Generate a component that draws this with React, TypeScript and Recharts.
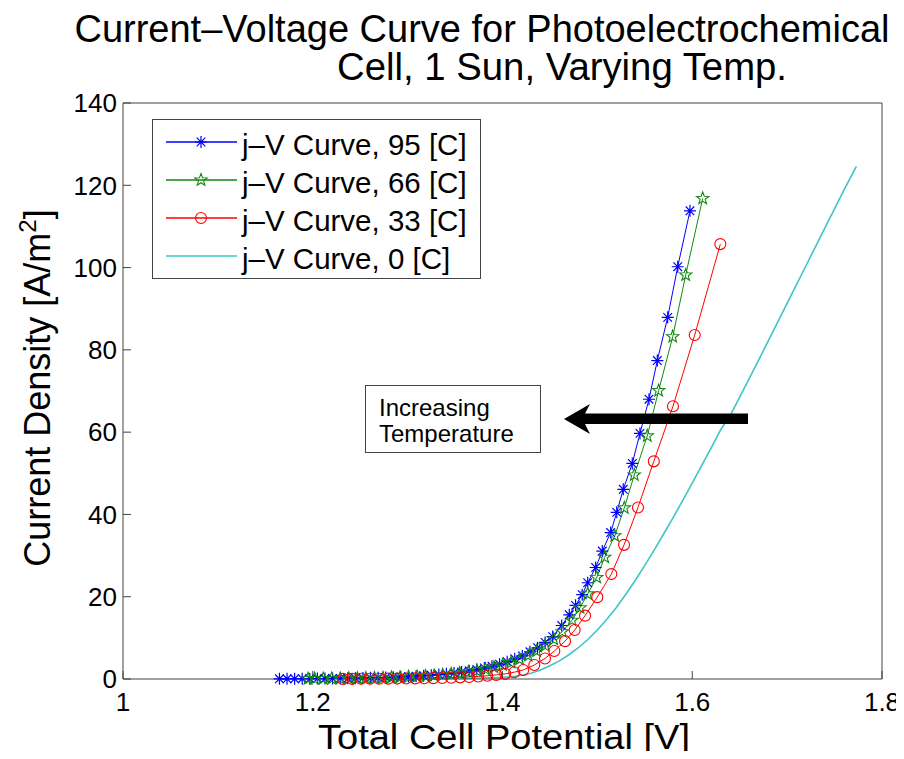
import { LineChart, Line, XAxis, YAxis } from "recharts";

// j-V readings [V, A/m^2]
const blueVJ = [
  [1.1649, 0.04], [1.1729, 0.05], [1.1809, 0.06], [1.1889, 0.07], [1.1969, 0.08],
  [1.2049, 0.1], [1.2129, 0.11], [1.2209, 0.13], [1.2289, 0.15], [1.2369, 0.18],
  [1.2449, 0.21], [1.2529, 0.24], [1.2609, 0.28], [1.2689, 0.32], [1.2769, 0.38],
  [1.2849, 0.44], [1.2929, 0.51], [1.3009, 0.59], [1.3089, 0.69], [1.3169, 0.8],
  [1.3249, 0.93], [1.3329, 1.08], [1.3409, 1.25], [1.3489, 1.45], [1.3569, 1.7],
  [1.3649, 2.0], [1.3729, 2.3], [1.3809, 2.7], [1.3889, 3.1], [1.3969, 3.6],
  [1.4049, 4.2], [1.4129, 4.9], [1.4209, 5.6], [1.4289, 6.6], [1.4369, 7.6],
  [1.4449, 8.9], [1.4529, 10.3], [1.4624, 13.0], [1.4704, 15.6], [1.477, 17.9],
  [1.484, 20.5], [1.4898, 23.4], [1.4982, 27.1], [1.5052, 31.1], [1.514, 35.6],
  [1.5204, 40.5], [1.5273, 46.1], [1.5368, 52.4], [1.5449, 59.7], [1.5544, 68.0],
  [1.5632, 77.4], [1.5741, 87.9], [1.5847, 100.2], [1.5976, 113.8],
];

const greenVJ = [
  [1.195, 0.06], [1.202, 0.07], [1.211, 0.09], [1.22, 0.1], [1.229, 0.12],
  [1.238, 0.15], [1.247, 0.18], [1.256, 0.21], [1.265, 0.25], [1.274, 0.3],
  [1.283, 0.35], [1.292, 0.42], [1.301, 0.5], [1.31, 0.59], [1.319, 0.7],
  [1.328, 0.84], [1.337, 1.0], [1.346, 1.2], [1.355, 1.42], [1.364, 1.7],
  [1.373, 2.0], [1.382, 2.4], [1.391, 2.85], [1.4, 3.4], [1.409, 4.0],
  [1.418, 4.8], [1.427, 5.7], [1.436, 6.8], [1.445, 8.1], [1.454, 9.7],
  [1.463, 11.5], [1.4733, 14.3], [1.4817, 17.3], [1.4898, 20.7], [1.4993, 24.7],
  [1.5077, 29.6], [1.5183, 34.8], [1.5284, 41.6], [1.5389, 49.6], [1.5526, 59.1],
  [1.5646, 70.1], [1.5794, 83.2], [1.5931, 98.2], [1.611, 116.8],
];

const redVJ = [
  [1.2319, 0.03], [1.2414, 0.04], [1.2509, 0.05], [1.2604, 0.06], [1.2699, 0.07],
  [1.2794, 0.08], [1.2889, 0.1], [1.2984, 0.12], [1.3079, 0.14], [1.3174, 0.17],
  [1.3269, 0.21], [1.3364, 0.26], [1.3459, 0.32], [1.3554, 0.4], [1.3649, 0.5],
  [1.3744, 0.62], [1.3839, 0.78], [1.3934, 1.0], [1.4029, 1.25], [1.4124, 1.65],
  [1.4219, 2.2], [1.4335, 3.4], [1.4448, 5.0], [1.4546, 6.8], [1.4659, 9.2],
  [1.4761, 11.9], [1.487, 15.4], [1.4999, 19.9], [1.5147, 25.5], [1.5281, 32.6],
  [1.5428, 41.7], [1.5595, 52.9], [1.5797, 66.3], [1.6026, 83.6], [1.6296, 105.7],
];

const cyanVJ = [
  [1.24, 0.01], [1.28, 0.03], [1.32, 0.07], [1.35, 0.13], [1.38, 0.25],
  [1.4, 0.4], [1.41, 0.55], [1.42, 0.9], [1.43, 1.4], [1.44, 2.2],
  [1.45, 3.2], [1.46, 4.4], [1.47, 5.9], [1.48, 7.6], [1.49, 9.6],
  [1.5, 11.9], [1.51, 14.5], [1.52, 17.4], [1.53, 20.6], [1.54, 24.0],
  [1.55, 27.6], [1.56, 31.4], [1.57, 35.3], [1.58, 39.3], [1.59, 43.4],
  [1.6, 47.6], [1.61, 51.9], [1.62, 56.2], [1.63, 60.6], [1.64, 64.0],
  [1.66, 73.0], [1.68, 82.1], [1.7, 91.3], [1.72, 100.5], [1.74, 109.7],
  [1.76, 118.9], [1.773, 124.6],
];

const seriesNames = [
  "j\u2013V Curve, 95 [C]",
  "j\u2013V Curve, 66 [C]",
  "j\u2013V Curve, 33 [C]",
  "j\u2013V Curve, 0 [C]",
];
const seriesColors = ["#0000ff", "#108a10", "#ff0000", "#3cc6c6"];
const seriesMarkers = ["asterisk", "star", "circle", "none"];

const xTicks = [1, 1.2, 1.4, 1.6, 1.8];
const yTicks = [0, 20, 40, 60, 80, 100, 120, 140];

const titleLines = [
  "Current\u2013Voltage Curve for Photoelectrochemical",
  "Cell, 1 Sun, Varying Temp.",
];
const xLabel = "Total Cell Potential [V]";
const yLabelMain = "Current Density [A/m";
const yLabelSup = "2";
const noteLines = ["Increasing", "Temperature"];

const font = "'Liberation Sans', Arial, Helvetica, sans-serif";
const axisColor = "#444";

const toRows = (pts: number[][]) => pts.map(([v, j]) => ({ v, j }));

function marker(kind: string, cx: number, cy: number, color: string, key?: string) {
  if (kind === "asterisk") {
    const r = 6;
    const d = 4.3;
    return (
      <path
        key={key}
        d={`M${cx - r},${cy}H${cx + r}M${cx},${cy - r}V${cy + r}M${cx - d},${cy - d}L${cx + d},${cy + d}M${cx - d},${cy + d}L${cx + d},${cy - d}`}
        stroke={color}
        strokeWidth={1.2}
        fill="none"
      />
    );
  }
  if (kind === "star") {
    let pts = "";
    for (let k = 0; k < 10; k++) {
      const a = ((-90 + k * 36) * Math.PI) / 180;
      const rr = k % 2 === 0 ? 6.5 : 2.7;
      pts += `${cx + rr * Math.cos(a)},${cy + rr * Math.sin(a)} `;
    }
    return <polygon key={key} points={pts} stroke={color} strokeWidth={1.1} fill="none" />;
  }
  if (kind === "circle") {
    return <circle key={key} cx={cx} cy={cy} r={5.5} stroke={color} strokeWidth={1.1} fill="none" />;
  }
  return <g key={key} />;
}

const allData = [blueVJ, greenVJ, redVJ, cyanVJ];

export default function App() {
  return (
    <div style={{ margin: -8, width: 904, height: 759, position: "relative", overflow: "hidden", background: "#fff" }}>
      <LineChart width={904} height={759} margin={{ top: 102, right: 21, bottom: 50, left: 63 }}>
        <XAxis
          type="number"
          dataKey="v"
          domain={[1, 1.8]}
          ticks={xTicks}
          height={30}
          tickSize={-8}
          tickMargin={22}
          axisLine={{ stroke: axisColor }}
          tickLine={{ stroke: axisColor }}
          tick={{ fontSize: 26, fill: "#000", fontFamily: font }}
        />
        <XAxis
          xAxisId="top"
          orientation="top"
          type="number"
          dataKey="v"
          domain={[1, 1.8]}
          ticks={xTicks}
          height={1}
          tickSize={-8}
          tickFormatter={() => ""}
          axisLine={{ stroke: axisColor }}
          tickLine={{ stroke: axisColor }}
        />
        <YAxis
          type="number"
          domain={[0, 140]}
          ticks={yTicks}
          width={60}
          tickSize={-8}
          tickMargin={14}
          axisLine={{ stroke: axisColor }}
          tickLine={{ stroke: axisColor }}
          tick={{ fontSize: 26, fill: "#000", fontFamily: font }}
        />
        <YAxis
          yAxisId="right"
          orientation="right"
          type="number"
          domain={[0, 140]}
          ticks={yTicks}
          width={1}
          tickSize={-8}
          tickFormatter={() => ""}
          axisLine={{ stroke: axisColor }}
          tickLine={{ stroke: axisColor }}
        />
        {allData.map((pts, i) => (
          <Line
            key={seriesNames[i]}
            name={seriesNames[i]}
            data={toRows(pts)}
            dataKey="j"
            type="linear"
            stroke={seriesColors[i]}
            strokeWidth={i === 3 ? 1.6 : 1}
            isAnimationActive={false}
            activeDot={false}
            dot={
              seriesMarkers[i] === "none"
                ? false
                : (p: any) => marker(seriesMarkers[i], p.cx, p.cy, seriesColors[i], `m${i}-${p.index}`)
            }
          />
        ))}
      </LineChart>

      <svg
        width={904}
        height={759}
        style={{ position: "absolute", left: 0, top: 0, pointerEvents: "none" }}
        fontFamily={font}
      >
        {/* title */}
        <text x={482} y={42} fontSize={38} textAnchor="middle" fill="#000" textLength={815} lengthAdjust="spacingAndGlyphs">
          {titleLines[0]}
        </text>
        <text x={562} y={80} fontSize={38} textAnchor="middle" fill="#000" textLength={450} lengthAdjust="spacingAndGlyphs">
          {titleLines[1]}
        </text>

        {/* axis titles */}
        <text x={504} y={749} fontSize={35} textAnchor="middle" fill="#000" textLength={372} lengthAdjust="spacingAndGlyphs">
          {xLabel}
        </text>
        <text x={50} y={388} fontSize={36} textAnchor="middle" fill="#000" transform="rotate(-90, 50, 388)">
          {yLabelMain}
          <tspan fontSize={24} dy={-14}>{yLabelSup}</tspan>
          <tspan dy={14}>]</tspan>
        </text>

        {/* legend */}
        <rect x={152.5} y={119.5} width={328} height={159} fill="#fff" stroke={axisColor} />
        {seriesNames.map((name, i) => {
          const ly = 142 + i * 38;
          return (
            <g key={name}>
              <line x1={166} x2={237} y1={ly} y2={ly} stroke={seriesColors[i]} strokeWidth={1.3} />
              {marker(seriesMarkers[i], 201, ly, seriesColors[i])}
              <text x={242} y={ly + 13} fontSize={29.5} fill="#000">
                {name}
              </text>
            </g>
          );
        })}

        {/* annotation */}
        <rect x={365.5} y={385.5} width={175} height={67} fill="#fff" stroke={axisColor} />
        <text x={379} y={416} fontSize={24} fill="#000">
          {noteLines[0]}
        </text>
        <text x={379} y={442} fontSize={24} fill="#000">
          {noteLines[1]}
        </text>
        <path d="M564,419 L590,404 L585,413.5 L748,413.5 L748,424 L585,424 L590,434 Z" fill="#000" />
      </svg>
    </div>
  );
}
